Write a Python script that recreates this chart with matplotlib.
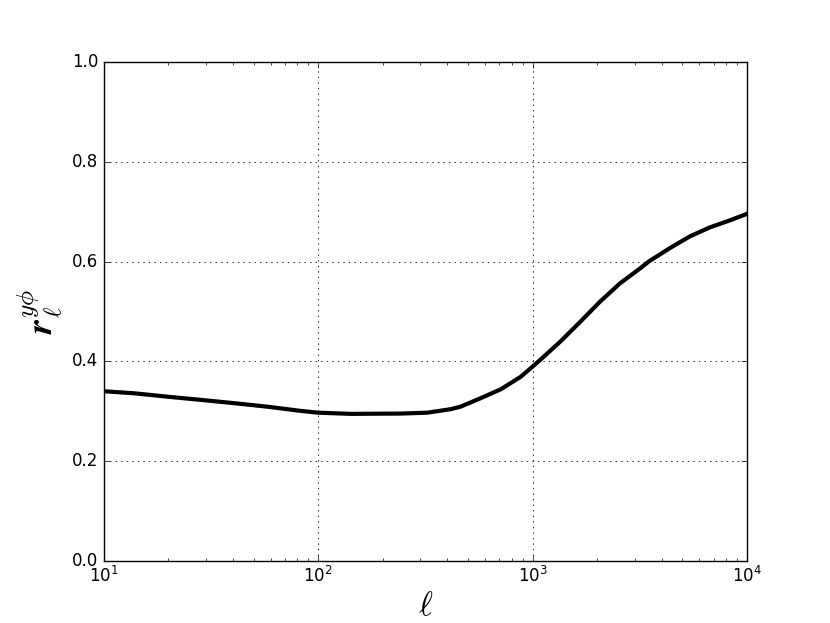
import matplotlib
matplotlib.use("Agg")
import matplotlib.pyplot as plt

plt.style.use('classic')

ell = [10, 13.8, 19.9, 28.5, 40.7, 58, 82.8, 100, 142, 241, 323, 415, 461,
       572, 711, 880, 1000, 1086, 1346, 1671, 2066, 2557, 3175, 3500, 4400,
       5430, 6730, 8340, 10000]
r = [0.340, 0.336, 0.329, 0.3226, 0.316, 0.309, 0.3006, 0.297, 0.2946, 0.2952,
     0.297, 0.304, 0.309, 0.326, 0.344, 0.369, 0.3895, 0.403, 0.4395, 0.4796,
     0.520, 0.5565, 0.5866, 0.601, 0.628, 0.651, 0.669, 0.683, 0.696]

fig = plt.figure(figsize=(8.3, 6.23), dpi=100)
ax = fig.add_axes([0.125, 0.1, 0.775, 0.8])
ax.semilogx(ell, r, color='black', lw=3, solid_joinstyle='round')
ax.set_xlim(10, 1e4)
ax.set_ylim(0, 1)
ax.grid(True, color='black', linestyle=':', lw=0.6)
ax.set_xlabel(r'$\ell$', fontsize=24, labelpad=2)
ax.set_ylabel(r'$\boldsymbol{r}_\ell^{y\phi}$', fontsize=26)
fig.savefig('out.png', dpi=100, facecolor='white')
